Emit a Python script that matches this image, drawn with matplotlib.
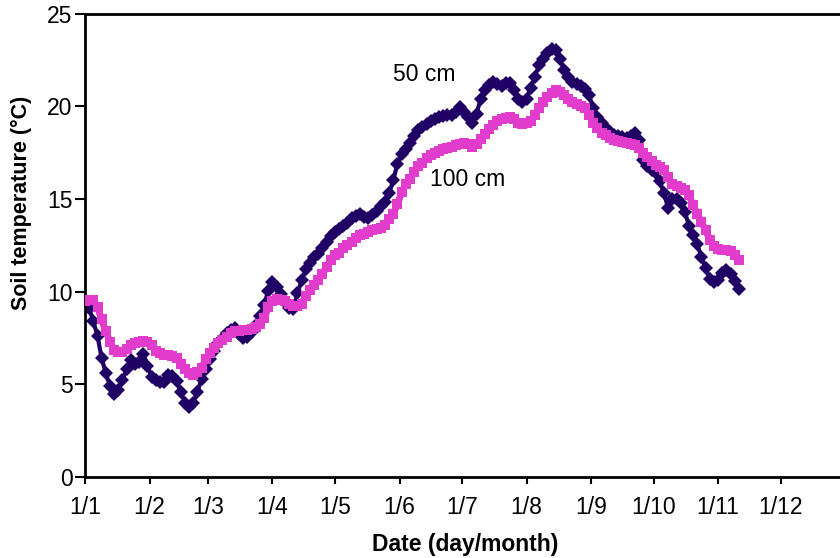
import numpy as np
import matplotlib
matplotlib.use("Agg")
import matplotlib.pyplot as plt

plt.rcParams['font.family'] = ['Liberation Sans', 'DejaVu Sans']

# day of year (0 = 1 Jan), every second day
days = list(range(0, 316, 2))

# soil temperature at 50 cm depth (deg C)
t50 = [9.3, 9.1, 8.4, 7.6, 6.4, 5.6, 4.9, 4.45, 4.7, 5.25,
       5.8, 6.3, 6.1, 6.2, 6.65, 6.0, 5.4, 5.25, 5.1, 5.1,
       5.5, 5.45, 5.2, 4.6, 4.0, 3.8, 4.0, 4.6, 5.3, 5.85,
       6.35, 6.8, 7.2, 7.45, 7.75, 7.95, 8.05, 7.7, 7.5, 7.55,
       7.8, 8.2, 8.7, 9.3, 10.05, 10.5, 10.25, 9.85, 9.45, 9.1,
       9.05, 9.9, 10.6, 11.2, 11.55, 11.85, 12.05, 12.35, 12.7, 13.0,
       13.2, 13.4, 13.55, 13.7, 13.95, 14.1, 14.2, 14.05, 13.95, 14.15,
       14.35, 14.6, 14.85, 15.3, 16.0, 16.9, 17.4, 17.7, 18.0, 18.4,
       18.7, 18.9, 19.05, 19.2, 19.3, 19.4, 19.45, 19.5, 19.55, 19.7,
       19.95, 19.7, 19.4, 19.1, 19.6, 20.4, 20.9, 21.15, 21.3, 21.2,
       21.1, 21.25, 21.25, 20.9, 20.4, 20.2, 20.4, 21.0, 21.6, 22.2,
       22.55, 22.85, 23.1, 23.05, 22.55, 21.95, 21.55, 21.3, 21.2, 21.1,
       20.95, 20.6, 19.9, 19.4, 19.1, 18.8, 18.6, 18.45, 18.4, 18.35,
       18.3, 18.4, 18.55, 18.2, 17.1, 16.8, 16.55, 16.4, 15.95, 15.3,
       14.5, 15.0, 15.0, 14.8, 14.3, 13.55, 13.05, 12.55, 11.85, 11.25,
       10.7, 10.5, 10.65, 11.0, 11.15, 10.95, 10.55, 10.15]

# soil temperature at 100 cm depth (deg C)
t100 = [9.5, 9.55, 9.55, 9.15, 8.5, 7.85, 7.3, 6.85, 6.75, 6.75,
        6.9, 7.1, 7.25, 7.3, 7.35, 7.3, 7.1, 6.8, 6.7, 6.6,
        6.6, 6.55, 6.4, 6.1, 5.8, 5.6, 5.5, 5.65, 5.9, 6.35,
        6.7, 6.95, 7.2, 7.4, 7.55, 7.75, 7.85, 7.9, 7.92, 7.95,
        8.0, 8.1, 8.25, 8.55, 9.15, 9.5, 9.6, 9.55, 9.5, 9.35,
        9.2, 9.2, 9.35, 9.75, 10.1, 10.35, 10.6, 10.95, 11.35, 11.7,
        11.95, 12.1, 12.35, 12.5, 12.7, 12.9, 13.05, 13.1, 13.2, 13.3,
        13.35, 13.45, 13.6, 13.9, 14.2, 14.7, 15.35, 15.8, 16.1, 16.45,
        16.75, 16.95, 17.2, 17.35, 17.5, 17.6, 17.7, 17.75, 17.8, 17.9,
        17.95, 18.0, 17.95, 17.8, 17.95, 18.25, 18.5, 18.75, 19.0, 19.2,
        19.3, 19.35, 19.4, 19.3, 19.1, 19.05, 19.1, 19.2, 19.5, 19.9,
        20.2, 20.5, 20.7, 20.85, 20.75, 20.6, 20.4, 20.25, 20.1, 20.0,
        19.9, 19.5, 19.1, 18.8, 18.55, 18.45, 18.3, 18.15, 18.1, 18.05,
        18.0, 17.95, 17.9, 17.75, 17.5, 17.25, 17.05, 16.85, 16.7, 16.55,
        16.2, 15.8, 15.7, 15.6, 15.5, 15.2, 14.65, 14.2, 13.75, 13.3,
        12.8, 12.45, 12.3, 12.25, 12.25, 12.2, 12.0, 11.7]

# first day of each month
month_starts = [0, 31, 59, 90, 120, 151, 181, 212, 243, 273, 304, 334]
month_labels = ['1/1', '1/2', '1/3', '1/4', '1/5', '1/6',
                '1/7', '1/8', '1/9', '1/10', '1/11', '1/12']

navy = '#200064'
magenta = '#e23ccc'

fig = plt.figure(figsize=(8.4, 5.58), dpi=100)
ax = fig.add_axes([0.1012, 0.1452, 0.905, 0.8306])

ax.plot(days, t50, color=navy, marker='D', markersize=7, markeredgewidth=0,
        linewidth=3, zorder=2)
ax.plot(days, t100, color=magenta, marker='s', markersize=7.5, markeredgewidth=0,
        linewidth=5, zorder=3)

ax.set_xlim(0, 365)
ax.set_ylim(0, 25)
ax.set_xticks(month_starts)
ax.set_xticklabels(month_labels)
ax.set_yticks([0, 5, 10, 15, 20, 25])

for s in ['left', 'bottom', 'top']:
    ax.spines[s].set_linewidth(2)
ax.spines['right'].set_visible(False)

ax.tick_params(axis='y', direction='out', length=7, width=1.5, labelsize=16.5, pad=2)
ax.tick_params(axis='x', direction='out', length=5, width=1.5, labelsize=16.5, pad=9)

ax.set_xlabel('Date (day/month)', fontsize=16.5, fontweight='bold', labelpad=10)
ax.set_ylabel('Soil temperature (°C)', fontsize=15.5, fontweight='bold')
ax.yaxis.set_label_coords(-0.07, 0.591)

ax.text(163, 21.7, '50 cm', fontsize=16.5, ha='center', va='center')
ax.text(183.5, 16.05, '100 cm', fontsize=16.5, ha='center', va='center')

fig.savefig('out.png', dpi=100)
